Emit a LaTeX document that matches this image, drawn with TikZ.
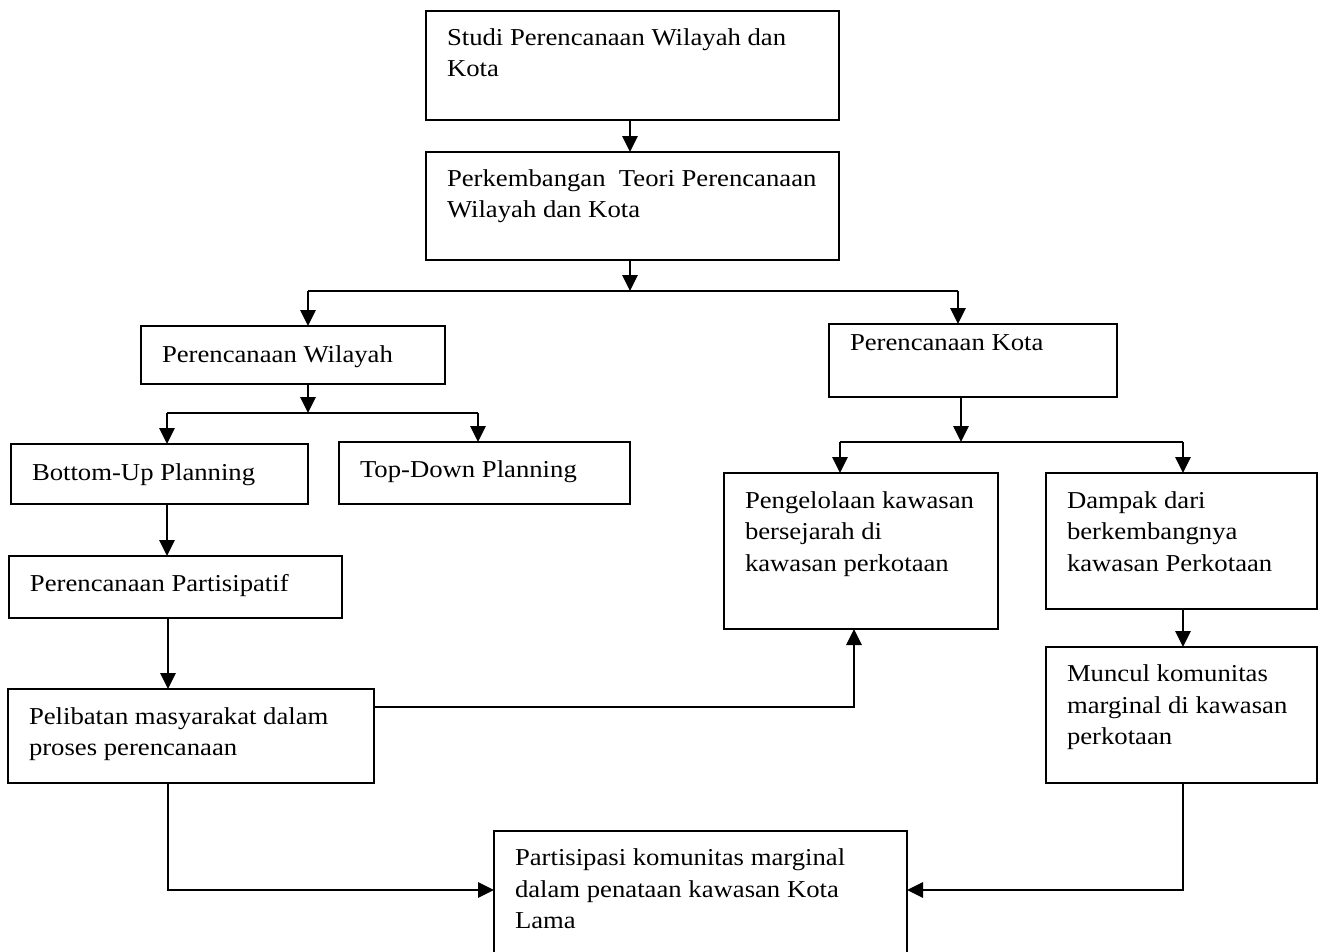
\documentclass[tikz,border=0pt]{standalone}
\usepackage{fontspec}
\setmainfont[FakeStretch=1.1]{Liberation Serif}
\usetikzlibrary{arrows.meta,calc}
\tikzset{
  box/.style={draw, line width=1.8pt, inner sep=0pt, outer sep=0pt, anchor=north west},
  lbl/.style={anchor=base west, inner sep=0pt, outer sep=0pt, font=\fontsize{18.2pt}{23.8pt}\selectfont},
  conn/.style={line width=1.7pt},
  arr/.style={conn, -{Triangle[length=12pt,width=11.5pt]}},
}
\newcommand\mkbox[5]{\node[box, minimum width={(#4-#2)*0.75pt}, minimum height={(#5-#3)*0.75pt}] (#1) at (#2,#3) {};}
\newcommand\mktxt[4]{\node[lbl] (#1) at ($(#2.north west)+(21,#3)$) {\parbox[t]{14cm}{\raggedright #4}};}
\begin{document}
\begin{tikzpicture}[x=0.75pt,y=-0.75pt]
\path[use as bounding box, clip] (0,0) rectangle (1322,951);
\fill[white] (0,0) rectangle (1322,951);

% boxes
\mkbox{b1}{426}{11}{839}{120}
\mkbox{b2}{426}{152}{839}{260}
\mkbox{b3}{141}{326}{445}{384}
\mkbox{b4}{829}{324}{1117}{397}
\mkbox{b5}{11}{444}{308}{504}
\mkbox{b6}{339}{442}{630}{504}
\mkbox{b7}{724}{473}{998}{629}
\mkbox{b8}{1046}{473}{1317}{609}
\mkbox{b9}{9}{556}{342}{618}
\mkbox{b10}{8}{689}{374}{783}
\mkbox{b11}{1046}{647}{1317}{783}
\mkbox{b12}{494}{831}{907}{965}

% texts
\mktxt{t1}{b1}{34}{Studi Perencanaan Wilayah dan\\Kota}
\mktxt{t2}{b2}{34}{Perkembangan~ Teori Perencanaan\\Wilayah dan Kota}
\mktxt{t3}{b3}{36}{Perencanaan Wilayah}
\mktxt{t4}{b4}{26}{Perencanaan Kota}
\mktxt{t5}{b5}{36}{Bottom-Up Planning}
\mktxt{t6}{b6}{35}{Top-Down Planning}
\mktxt{t7}{b7}{35}{Pengelolaan kawasan\\bersejarah di\\kawasan perkotaan}
\mktxt{t8}{b8}{35}{Dampak dari\\berkembangnya\\kawasan Perkotaan}
\mktxt{t9}{b9}{35}{Perencanaan Partisipatif}
\mktxt{t10}{b10}{35}{Pelibatan masyarakat dalam\\proses perencanaan}
\mktxt{t11}{b11}{34.5}{Muncul komunitas\\marginal di kawasan\\perkotaan}
\mktxt{t12}{b12}{34.5}{Partisipasi komunitas marginal\\dalam penataan kawasan Kota\\Lama}

% junction coordinates
\coordinate (j0) at (630,291);
\coordinate (jL) at (308,291);
\coordinate (jR) at (958,291);
\coordinate (k0) at (308,413);
\coordinate (kL) at (167,413);
\coordinate (kR) at (478,413);
\coordinate (m0) at (961,442);
\coordinate (mL) at (840,442);
\coordinate (mR) at (1183,442);
\coordinate (p) at (854,707);
\coordinate (q) at (168,890);
\coordinate (r) at (1183,890);

% connectors
\draw[arr] (j0 |- b1.south) -- (j0 |- b2.north);
\draw[arr] (j0 |- b2.south) -- (j0);
\draw[conn] (jL) -- (jR);
\draw[arr] (jL) -- (jL |- b3.north);
\draw[arr] (jR) -- (jR |- b4.north);
\draw[arr] (k0 |- b3.south) -- (k0);
\draw[conn] (kL) -- (kR);
\draw[arr] (kL) -- (kL |- b5.north);
\draw[arr] (kR) -- (kR |- b6.north);
\draw[arr] (m0 |- b4.south) -- (m0);
\draw[conn] (mL) -- (mR);
\draw[arr] (mL) -- (mL |- b7.north);
\draw[arr] (mR) -- (mR |- b8.north);
\draw[arr] (kL |- b5.south) -- (kL |- b9.north);
\draw[arr] (q |- b9.south) -- (q |- b10.north);
\draw[arr] (b10.east |- p) -- (p) -- (p |- b7.south);
\draw[arr] (mR |- b8.south) -- (mR |- b11.north);
\draw[arr] (q |- b10.south) -- (q) -- (q -| b12.west);
\draw[arr] (r |- b11.south) -- (r) -- (r -| b12.east);
\end{tikzpicture}
\end{document}
